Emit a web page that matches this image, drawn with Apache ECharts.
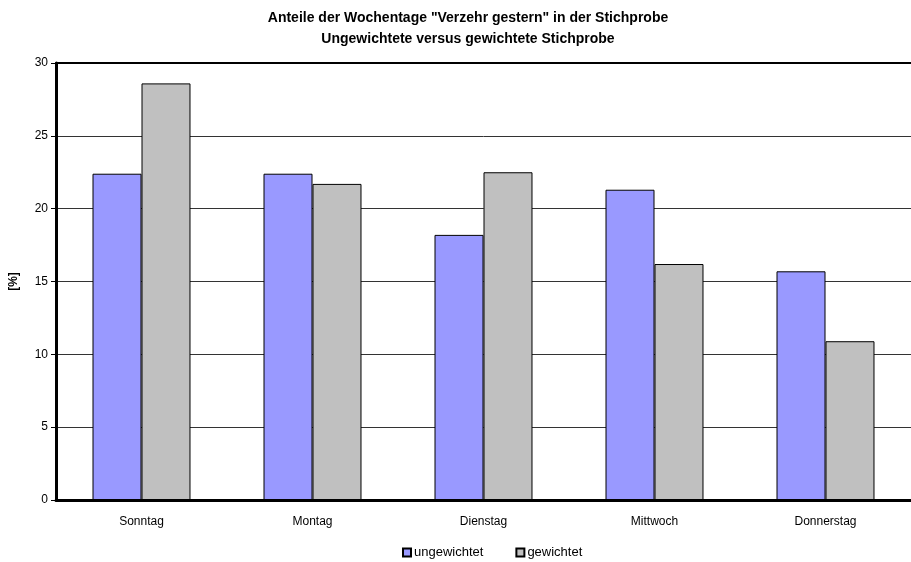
<!DOCTYPE html>
<html>
<head>
<meta charset="utf-8">
<script src="https://cdn.jsdelivr.net/npm/echarts@6/dist/echarts.min.js"></script>
<style>
html, body { margin: 0; padding: 0; background: #fff; }
#chart { width: 911px; height: 562px; }
</style>
</head>
<body>
<div id="chart"></div>
<script>
var days = ['Sonntag', 'Montag', 'Dienstag', 'Mittwoch', 'Donnerstag'];
var ungewichtet = [22.4, 22.4, 18.2, 21.3, 15.7];
var gewichtet = [28.6, 21.7, 22.5, 16.2, 10.9];
var yTicks = [0, 5, 10, 15, 20, 25, 30];

var chart = echarts.init(document.getElementById('chart'));
var font = 'Liberation Sans, Arial, sans-serif';

var option = {
    animation: false,
    textStyle: { fontFamily: font },
    title: {
        text: 'Anteile der Wochentage "Verzehr gestern" in der Stichprobe\nUngewichtete versus gewichtete Stichprobe',
        left: 463,
        textAlign: 'center',
        top: 3,
        textStyle: { fontSize: 14, fontWeight: 'bold', color: '#000', lineHeight: 21, fontFamily: font }
    },
    grid: {
        left: 56, right: 0, top: 63, bottom: 62
    },
    legend: {
        bottom: -2,
        left: 397,
        itemWidth: 8,
        itemHeight: 8,
        itemGap: 32,
        icon: 'rect',
        textStyle: { fontSize: 13, color: '#000', padding: [5, 0, 0, -2] },
        data: ['ungewichtet', 'gewichtet']
    },
    xAxis: [
        {
            type: 'category',
            data: days,
            axisLine: { lineStyle: { color: '#000', width: 3 } },
            axisTick: { length: 5, lineStyle: { color: '#000' } },
            axisLabel: { fontSize: 12, color: '#000', margin: 16 }
        },
        {
            // top frame line of the plot area
            type: 'category',
            data: days,
            position: 'top',
            axisLine: { show: true, lineStyle: { color: '#000', width: 2 } },
            axisTick: { show: false },
            axisLabel: { show: false }
        }
    ],
    yAxis: {
        type: 'value',
        min: yTicks[0],
        max: yTicks[yTicks.length - 1],
        interval: 5,
        name: '[%]',
        nameLocation: 'middle',
        nameRotate: 90,
        nameGap: 36,
        nameTextStyle: { fontSize: 12, fontWeight: 'bold', color: '#000' },
        axisLine: { show: true, lineStyle: { color: '#000', width: 3 } },
        axisTick: { show: true, length: 5, lineStyle: { color: '#000' } },
        axisLabel: { fontSize: 12, color: '#000', margin: 8 },
        splitLine: { lineStyle: { color: '#333', width: 1 } }
    },
    series: [
        {
            name: 'ungewichtet',
            type: 'bar',
            data: ungewichtet,
            barGap: '0%',
            barCategoryGap: '42.7%',
            itemStyle: { color: '#9999FF', borderColor: '#000', borderWidth: 1 }
        },
        {
            name: 'gewichtet',
            type: 'bar',
            data: gewichtet,
            itemStyle: { color: '#C0C0C0', borderColor: '#000', borderWidth: 1 }
        }
    ]
};

chart.setOption(option);
</script>
</body>
</html>
